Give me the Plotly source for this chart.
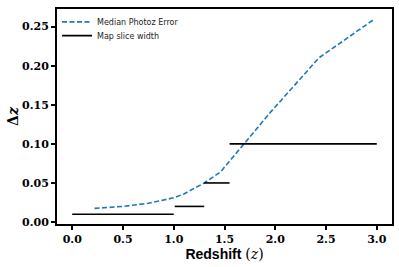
import plotly.graph_objects as go

# Median photo-z error vs redshift
z_vals = [0.22, 0.5, 0.75, 1.0, 1.1, 1.3, 1.46, 1.95, 2.43, 2.97]
photoz_err = [0.0175, 0.020, 0.024, 0.031, 0.036, 0.050, 0.064, 0.140, 0.210, 0.259]

# Map slice widths (horizontal segments)
slice_lo = [0.0, 1.01, 1.3, 1.55]
slice_hi = [1.0, 1.3, 1.55, 3.0]
slice_width = [0.01, 0.02, 0.05, 0.10]

x_ticks = [0.0, 0.5, 1.0, 1.5, 2.0, 2.5, 3.0]
y_ticks = [0.00, 0.05, 0.10, 0.15, 0.20, 0.25]

seg_x, seg_y = [], []
for lo, hi, w in zip(slice_lo, slice_hi, slice_width):
    seg_x += [lo, hi, None]
    seg_y += [w, w, None]

fig = go.Figure()
fig.add_trace(go.Scatter(
    x=z_vals, y=photoz_err, mode="lines", name="Median Photoz Error",
    legend="legend",
    line=dict(color="#1f77b4", width=1.6, dash="5px,2.5px")))
fig.add_trace(go.Scatter(
    x=seg_x, y=seg_y, mode="lines", name="Map slice width",
    legend="legend2",
    line=dict(color="black", width=1.6), connectgaps=False))

tickfont = dict(family="DejaVu Serif", size=11, color="black", weight="bold")
legfont = dict(family="DejaVu Sans", size=8, color="#222")
fig.update_layout(
    width=399, height=267,
    margin=dict(l=57, r=7, t=7, b=43),
    paper_bgcolor="white", plot_bgcolor="white",
    showlegend=True,
    legend=dict(x=0.0, y=0.940, xanchor="left", yanchor="middle",
                bgcolor="rgba(0,0,0,0)", font=legfont, itemwidth=30),
    legend2=dict(x=0.0, y=0.876, xanchor="left", yanchor="middle",
                 bgcolor="rgba(0,0,0,0)", font=legfont, itemwidth=30),
    xaxis=dict(range=[-0.15, 3.15], tickvals=x_ticks,
               ticktext=[f"{v:.1f}" for v in x_ticks],
               showgrid=False, zeroline=False, automargin=False,
               showline=True, linecolor="black", linewidth=2, mirror=True,
               ticks="outside", ticklen=4, tickwidth=1.5, tickcolor="black",
               tickfont=tickfont,
               title=dict(text="<b>Redshift</b> <span style=\"font-family:'DejaVu Serif';font-weight:normal\">(<i>z</i>)</span>",
                          font=dict(family="Liberation Sans", size=14, color="black"),
                          standoff=0)),
    yaxis=dict(range=[-0.0025, 0.2725], tickvals=y_ticks,
               ticktext=[f"{v:.2f}" for v in y_ticks],
               showgrid=False, zeroline=False, automargin=False,
               showline=True, linecolor="black", linewidth=2, mirror=True,
               ticks="outside", ticklen=4, tickwidth=1.5, tickcolor="black",
               tickfont=tickfont,
               title=dict(text="<b>Δ<i>z</i></b>",
                          font=dict(family="DejaVu Serif", size=14, color="black"),
                          standoff=0)),
)

fig.write_html("out.html",
               config={"displayModeBar": False},
               post_script="document.body.style.margin='0';document.body.style.padding='0';")
